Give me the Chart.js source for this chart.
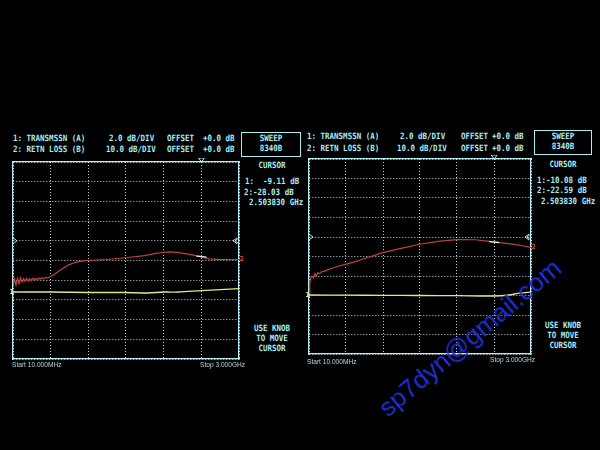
<!DOCTYPE html>
<html>
<head>
<meta charset="utf-8">
<script src="https://cdn.jsdelivr.net/npm/chart.js@4/dist/chart.umd.min.js"></script>
<style>
body{margin:0;background:#000;width:600px;height:450px;overflow:hidden;position:relative;}
canvas{position:absolute;}
.t{position:absolute;font-family:"DejaVu Sans Mono",monospace;font-weight:bold;font-size:7.5px;line-height:10px;color:#a8eef5;white-space:pre;transform:scaleY(1.15);}
.c{transform:translateX(-50%) scaleY(1.15);text-align:center;}
.s{position:absolute;font-family:"Liberation Sans",Arial,sans-serif;font-size:6.6px;line-height:10px;color:#b6d6de;white-space:pre;}
.box{position:absolute;border:1px solid #a8eef5;}
#wm{position:absolute;left:470px;top:338px;transform:translate(-50%,-50%) rotate(-40deg);
  font-family:"Liberation Sans",Arial,sans-serif;font-size:26px;color:#1f2ee0;white-space:nowrap;}
</style>
</head>
<body>
<canvas id="leftChart" width="234" height="205" style="left:9px;top:158px"></canvas>
<canvas id="rightChart" width="230" height="203" style="left:305px;top:155px"></canvas>

<!-- left screen texts -->
<div class="t" style="left:13px;top:134px">1: TRANSMSSN (A)</div>
<div class="t" style="left:109px;top:134px">2.0 dB/DIV</div>
<div class="t" style="left:167px;top:134px">OFFSET</div>
<div class="t" style="left:203px;top:134px">+0.0 dB</div>
<div class="t" style="left:13px;top:145px">2: RETN LOSS (B)</div>
<div class="t" style="left:106px;top:145px">10.0 dB/DIV</div>
<div class="t" style="left:167px;top:145px">OFFSET</div>
<div class="t" style="left:203px;top:145px">+0.0 dB</div>
<div class="box" style="left:241px;top:132px;width:58px;height:23px"></div>
<div class="t c" style="left:271px;top:134px">SWEEP</div>
<div class="t c" style="left:271px;top:144px">8340B</div>
<div class="t c" style="left:272px;top:161px">CURSOR</div>
<div class="t" style="left:245px;top:177px">1:  -9.11 dB</div>
<div class="t" style="left:244px;top:188px">2:-28.03 dB</div>
<div class="t" style="left:249px;top:198px">2.503830 GHz</div>
<div class="t c" style="left:272px;top:324px">USE KNOB</div>
<div class="t c" style="left:272px;top:334px">TO MOVE</div>
<div class="t c" style="left:272px;top:344px">CURSOR</div>
<div class="s" style="left:12px;top:360px">Start 10.000MHz</div>
<div class="s" style="left:200px;top:360px">Stop 3.000GHz</div>

<!-- right screen texts -->
<div class="t" style="left:307px;top:132px">1: TRANSMSSN (A)</div>
<div class="t" style="left:400px;top:132px">2.0 dB/DIV</div>
<div class="t" style="left:461px;top:132px">OFFSET</div>
<div class="t" style="left:492px;top:132px">+0.0 dB</div>
<div class="t" style="left:307px;top:144px">2: RETN LOSS (B)</div>
<div class="t" style="left:397px;top:144px">10.0 dB/DIV</div>
<div class="t" style="left:461px;top:144px">OFFSET</div>
<div class="t" style="left:492px;top:144px">+0.0 dB</div>
<div class="box" style="left:534px;top:130px;width:56px;height:23px"></div>
<div class="t c" style="left:563px;top:132px">SWEEP</div>
<div class="t c" style="left:563px;top:142px">8340B</div>
<div class="t c" style="left:563px;top:160px">CURSOR</div>
<div class="t" style="left:537px;top:176px">1:-10.08 dB</div>
<div class="t" style="left:537px;top:186px">2:-22.59 dB</div>
<div class="t" style="left:541px;top:197px">2.503830 GHz</div>
<div class="t c" style="left:563px;top:321px">USE KNOB</div>
<div class="t c" style="left:563px;top:331px">TO MOVE</div>
<div class="t c" style="left:563px;top:341px">CURSOR</div>
<div class="s" style="left:307px;top:357px">Start 10.000MHz</div>
<div class="s" style="left:490px;top:355px">Stop 3.000GHz</div>

<div id="wm">sp7dyn@gmail.com</div>

<script>
// sweep 10 MHz .. 3 GHz, 6 divisions across
const freqDivs      =   [0.01, 0.50833, 1.00667, 1.505, 2.00333, 2.50167, 3.0];
const cursorFreq    =   2.50383;

// left screen
const leftRetnFreq  =   [0.01, 0.03, 0.05, 0.07, 0.09, 0.11, 0.13, 0.15, 0.17, 0.19, 0.21, 0.23, 0.25, 0.27, 0.29, 0.31, 0.33, 0.35, 0.37, 0.39, 0.41, 0.44, 0.47, 0.50, 0.55, 0.60, 0.65, 0.70, 0.75, 0.80, 0.85, 0.90, 1.00, 1.25, 1.50, 1.75, 1.90, 2.00, 2.10, 2.20, 2.35, 2.50, 2.60, 2.75, 3.00];
const leftRetnDb    =   [-43, -39.5, -42.5, -39, -41.8, -38.8, -41, -39.2, -40.6, -39, -40.5, -39.2, -40.2, -39, -40, -39.1, -39.9, -38.8, -39.6, -38.7, -39.3, -38.6, -38.9, -38.2, -37.2, -35.8, -34.5, -33.3, -32.2, -31.4, -30.8, -30.4, -30.0, -29.5, -28.6, -27.5, -26.4, -25.8, -25.6, -26.0, -26.9, -28.0, -29.2, -29.6, -29.5];
const leftTransFreq =   [0.01, 0.5, 1.0, 1.5, 1.8, 2.0, 2.2, 2.5, 2.75, 3.0];
const leftTransDb   =   [-9.2, -9.2, -9.25, -9.25, -9.3, -9.2, -9.2, -9.05, -8.95, -8.85];
const leftCursor    =   [-9.11, -28.03];

// right screen
const rightRetnFreq =   [0.01, 0.02, 0.03, 0.05, 0.07, 0.09, 0.11, 0.13, 0.15, 0.18, 0.21, 0.25, 0.30, 0.40, 0.50, 0.60, 0.70, 0.80, 0.90, 1.00, 1.25, 1.50, 1.75, 2.00, 2.25, 2.50, 2.75, 2.90, 3.00];
const rightRetnDb   =   [-49, -44, -41.5, -40, -41, -38.8, -40, -38.3, -38.8, -37.8, -37.6, -37, -36.3, -35, -34, -33, -31.8, -30.5, -29.3, -28.0, -25.8, -23.7, -22.2, -21.3, -21.4, -22.5, -23.7, -24.6, -25.3];
const rightTransFreq =  [0.01, 0.5, 1.0, 1.5, 2.0, 2.5, 2.7, 2.85, 3.0];
const rightTransDb  =   [-9.95, -9.97, -9.98, -10.0, -10.02, -10.05, -9.95, -9.75, -9.65];
const rightCursor   =   [-10.08, -22.59];

const gridColor     =   'rgba(205,240,246,0.9)';
const frameColor    =   '#b4ecf3';

function toPoints(xs, ys)
{
    return xs.map((x, i) => ({x: x, y: ys[i]}));
}

// reference markers, cursor triangle, trace numbers, cursor dash
const screenMarks = {
    id: 'screenMarks',
    afterDatasetsDraw(chart)
    {
        const ctx   =   chart.ctx;
        const area  =   chart.chartArea;
        const xs    =   chart.scales.x;
        const y1    =   chart.scales.y;
        const y2    =   chart.scales.y2;
        const cur   =   chart.options.cursorVals;
        ctx.save();
        ctx.strokeStyle = frameColor;
        ctx.lineWidth = 1;
        const refY = y1.getPixelForValue(-4);
        ctx.beginPath();
        ctx.moveTo(area.left, refY - 3); ctx.lineTo(area.left + 4, refY); ctx.lineTo(area.left, refY + 3);
        ctx.moveTo(area.right, refY - 3); ctx.lineTo(area.right - 4, refY); ctx.lineTo(area.right, refY + 3);
        ctx.moveTo(area.right - 2, refY - 3); ctx.lineTo(area.right - 6, refY); ctx.lineTo(area.right - 2, refY + 3);
        ctx.stroke();
        const cx = xs.getPixelForValue(cursorFreq);
        ctx.beginPath();
        ctx.moveTo(cx - 3, area.top - 4); ctx.lineTo(cx + 3, area.top - 4); ctx.lineTo(cx, area.top); ctx.closePath();
        ctx.stroke();
        ctx.strokeStyle = '#f4f4f4';
        ctx.lineWidth = 1.3;
        const cy = y2.getPixelForValue(cur[1]);
        ctx.beginPath();
        ctx.moveTo(cx - 5, cy - 0.5); ctx.lineTo(cx + 5, cy + 0.5);
        ctx.stroke();
        ctx.font = 'bold 7px "DejaVu Sans"';
        ctx.textBaseline = 'middle';
        const d1 = chart.data.datasets[0].data;
        const d2 = chart.data.datasets[1].data;
        ctx.fillStyle = '#e4e48e';
        ctx.textAlign = 'right';
        ctx.fillText('1', area.left + 1, y1.getPixelForValue(d1[0].y));
        ctx.fillStyle = '#c8483e';
        ctx.textAlign = 'left';
        ctx.fillText('2', area.right + 0.5, y2.getPixelForValue(d2[d2.length - 1].y));
        ctx.restore();
    }
};

function screenChart(id, retnFreq, retnDb, transFreq, transDb, cursorVals)
{
    const ctx = document.getElementById(id).getContext('2d');
    return new Chart(ctx, {
        type: 'line',
        data: {
            datasets: [{
                label: '1: TRANSMSSN (A)',
                data: toPoints(transFreq, transDb),
                yAxisID: 'y',
                borderColor: '#e4e48e',
                borderWidth: 1.3,
                pointRadius: 0,
                tension: 0.3
            }, {
                label: '2: RETN LOSS (B)',
                data: toPoints(retnFreq, retnDb),
                yAxisID: 'y2',
                borderColor: '#c0433a',
                borderWidth: 1.2,
                pointRadius: 0,
                tension: 0
            }]
        },
        options: {
            cursorVals: cursorVals,
            responsive: false,
            animation: false,
            events: [],
            layout: { padding: 4 },
            plugins: { legend: { display: false }, tooltip: { enabled: false } },
            scales: {
                x: {
                    type: 'linear', min: 0.01, max: 3.0,
                    afterBuildTicks: axis => { axis.ticks = freqDivs.map(v => ({value: v})); },
                    ticks: { display: false },
                    grid: { color: gridColor, lineWidth: 1, drawTicks: false },
                    border: { color: frameColor, width: 1.3, dash: [1, 2] }
                },
                xTop: {
                    type: 'linear', position: 'top', min: 0.01, max: 3.0,
                    ticks: { display: false },
                    grid: { display: false, drawTicks: false },
                    border: { color: frameColor, width: 1.3 }
                },
                y: {
                    min: -16, max: 4,
                    ticks: { display: false, stepSize: 2 },
                    grid: { color: gridColor, lineWidth: 1, drawTicks: false },
                    border: { color: frameColor, width: 1.3, dash: [1, 2] }
                },
                y2: {
                    position: 'right', min: -80, max: 20,
                    ticks: { display: false, stepSize: 10 },
                    grid: { display: false, drawTicks: false },
                    border: { color: frameColor, width: 1.3 }
                }
            }
        },
        plugins: [screenMarks]
    });
}

screenChart('leftChart', leftRetnFreq, leftRetnDb, leftTransFreq, leftTransDb, leftCursor);
screenChart('rightChart', rightRetnFreq, rightRetnDb, rightTransFreq, rightTransDb, rightCursor);
</script>
</body>
</html>
